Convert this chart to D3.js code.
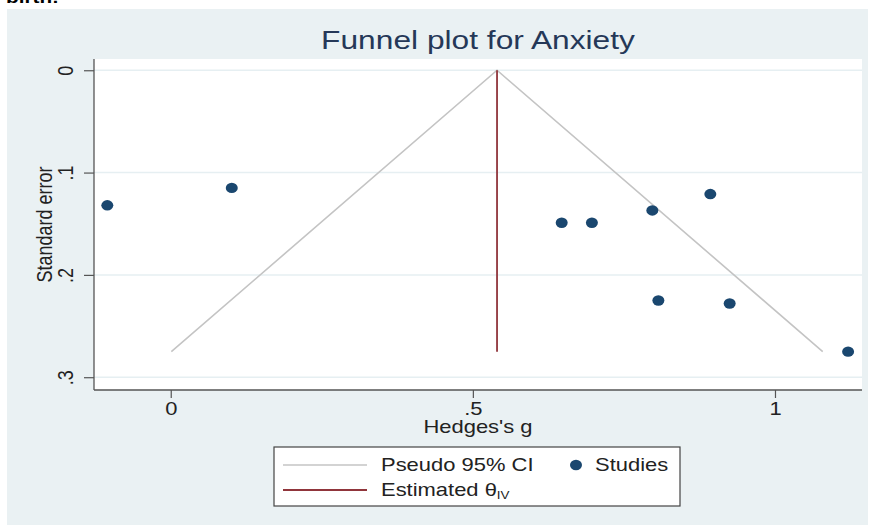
<!DOCTYPE html>
<html><head><meta charset="utf-8">
<script src="https://cdn.jsdelivr.net/npm/d3@7"></script>
<style>body{margin:0;background:#fff;} svg{display:block;font-family:"Liberation Sans",Arial,sans-serif;}</style>
</head><body>
<script>
// Data
const studyG = [-0.105, 0.101, 0.647, 0.697, 0.797, 0.893, 0.807, 0.925, 1.121];
const studySE = [0.132, 0.115, 0.149, 0.149, 0.137, 0.121, 0.225, 0.228, 0.275];
const thetaIV = 0.54;
const maxSE = 0.275;
const xTicks = [0, 0.5, 1];
const xTickLabels = ["0", ".5", "1"];
const yTicks = [0, 0.1, 0.2, 0.3];
const yTickLabels = ["0", ".1", ".2", ".3"];

const W = 871, H = 525, SX = 1.22;
const svg = d3.select("body").append("svg").attr("width", W).attr("height", H);

function txt(parent, x, y, s, size, opts = {}) {
  const g = parent.append("g").attr("transform", `translate(${x},${y}) scale(${SX},1)` + (opts.rot ? ` rotate(${opts.rot})` : ""));
  const t = g.append("text").attr("font-size", size).attr("fill", opts.fill || "#222")
    .attr("text-anchor", opts.anchor || "start");
  if (opts.bold) t.attr("font-weight", "bold");
  if (s !== null) t.text(s);
  return t;
}

svg.append("rect").attr("x", 7).attr("y", 9).attr("width", 861).attr("height", 516).attr("fill", "#eaf1f3");
txt(svg, 6, 3, "birth:", 17, {bold: true, fill: "#000"});

const pl = 94, pr = 862, pt = 59, pb = 390;
svg.append("rect").attr("x", pl).attr("y", pt).attr("width", pr - pl).attr("height", pb - pt).attr("fill", "#fff");

const x = d3.scaleLinear().domain([-0.127, 1.144]).range([pl, pr]);
const y = d3.scaleLinear().domain([-0.011, 0.3125]).range([pt, pb]);

// gridlines
svg.append("g").selectAll("line").data(yTicks).join("line")
  .attr("x1", pl).attr("x2", pr).attr("y1", d => y(d)).attr("y2", d => y(d))
  .attr("stroke", "#e6eff2").attr("stroke-width", 1.5);

// axes
const yAxis = d3.axisLeft(y).tickValues(yTicks).tickFormat((d, i) => yTickLabels[i]).tickSize(10).tickPadding(0);
const gy = svg.append("g").attr("transform", `translate(${pl},0)`).call(yAxis);
gy.select(".domain").attr("d", `M0,${pt}V${pb}`).attr("stroke", "#555").attr("stroke-width", 1.3);
gy.selectAll(".tick line").attr("stroke", "#555").attr("stroke-width", 1.2);
gy.selectAll(".tick text").attr("font-size", 18).attr("fill", "#222")
  .attr("x", 0).attr("y", 0).attr("dy", 0)
  .attr("transform", `translate(-21,0) scale(${SX},1) rotate(-90)`).attr("text-anchor", "middle");

const xAxis = d3.axisBottom(x).tickValues(xTicks).tickFormat((d, i) => xTickLabels[i]).tickSize(8).tickPadding(4);
const gx = svg.append("g").attr("transform", `translate(0,${pb})`).call(xAxis);
gx.select(".domain").attr("d", `M${pl},0H${pr}`).attr("stroke", "#555").attr("stroke-width", 1.3);
gx.selectAll(".tick line").attr("stroke", "#555").attr("stroke-width", 1.2);
gx.selectAll(".tick text").attr("font-size", 18).attr("fill", "#222").attr("transform", `scale(${SX},1)`);

// pseudo CI
const ci = [[thetaIV - 1.96 * maxSE, maxSE], [thetaIV, 0], [thetaIV + 1.96 * maxSE, maxSE]];
svg.append("path").datum(ci).attr("d", d3.line().x(d => x(d[0])).y(d => y(d[1])))
  .attr("fill", "none").attr("stroke", "#c4c4c4").attr("stroke-width", 1.6);
// theta line
svg.append("line").attr("x1", x(thetaIV)).attr("x2", x(thetaIV)).attr("y1", y(0)).attr("y2", y(maxSE))
  .attr("stroke", "#90353b").attr("stroke-width", 1.8);

// studies
svg.append("g").selectAll("ellipse").data(studyG.map((g, i) => [g, studySE[i]])).join("ellipse")
  .attr("cx", d => x(d[0])).attr("cy", d => y(d[1])).attr("rx", 6).attr("ry", 5.2).attr("fill", "#1a476f");

// titles
txt(svg, (pl + pr) / 2, 49, "Funnel plot for Anxiety", 26, {anchor: "middle", fill: "#253858"});
txt(svg, (pl + pr) / 2, 433, "Hedges's g", 18, {anchor: "middle"});
txt(svg, 52, (pt + pb) / 2, "Standard error", 18, {anchor: "middle", rot: -90});

// legend
const lg = svg.append("g");
lg.append("rect").attr("x", 274).attr("y", 447).attr("width", 406).attr("height", 59).attr("fill", "#fff").attr("stroke", "#444").attr("stroke-width", 1.2);
lg.append("line").attr("x1", 283).attr("x2", 367).attr("y1", 465).attr("y2", 465).attr("stroke", "#c4c4c4").attr("stroke-width", 1.6);
txt(lg, 381, 471, "Pseudo 95% CI", 18);
lg.append("ellipse").attr("cx", 576).attr("cy", 465).attr("rx", 6).attr("ry", 5.2).attr("fill", "#1a476f");
txt(lg, 595, 471, "Studies", 18);
lg.append("line").attr("x1", 283).attr("x2", 367).attr("y1", 490).attr("y2", 490).attr("stroke", "#90353b").attr("stroke-width", 1.8);
const t2 = txt(lg, 381, 496, null, 18);
t2.append("tspan").text("Estimated θ");
t2.append("tspan").attr("font-size", 11).attr("dy", 3).text("IV");
</script>
</body></html>
